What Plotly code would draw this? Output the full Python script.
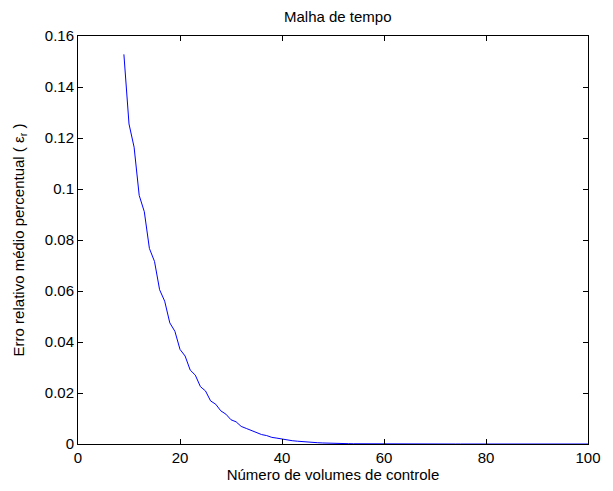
import plotly.graph_objects as go

# Número de volumes de controle (malha) e erro relativo médio percentual
n_volumes = list(range(9, 101))
erro_relativo = [
    0.1528, 0.1255, 0.1164, 0.0975, 0.0911, 0.0767, 0.0716, 0.0605, 0.0560, 0.0475,  # 9-18
    0.0442, 0.0371, 0.0345, 0.0290, 0.0270, 0.0225, 0.0208, 0.0169, 0.0156, 0.0130,  # 19-28
    0.0117, 0.0095, 0.0087, 0.0069, 0.0061, 0.0052, 0.0046, 0.0037, 0.0033, 0.0026,  # 29-38
    0.0023, 0.0019, 0.0016, 0.0013, 0.0011, 0.0009, 0.0007, 0.0006, 0.0005, 0.0004,  # 39-48
    0.0003, 0.00025, 0.0002, 0.00016, 0.00013, 0.0001, 0.00008, 0.00006, 0.00005, 0.00004,  # 49-58
    0.00003, 0.00002, 0.000016, 0.000012, 0.00001, 0.000008, 0.000006, 0.000005, 0.000004, 0.000003,  # 59-68
    0.0000025, 0.000002, 0.0000016, 0.0000012, 0.000001, 0.0000008, 0.0000006, 0.0000005, 0.0000004, 0.0000003,  # 69-78
    0.00000025, 0.0000002, 0.00000016, 0.00000012, 0.0000001, 0.00000008, 0.00000006, 0.00000005, 0.00000004, 0.00000003,  # 79-88
    0.000000025, 0.00000002, 0.000000016, 0.000000012, 0.00000001, 0.000000008, 0.000000006, 0.000000005, 0.000000004, 0.000000003,  # 89-98
    0.0000000025, 0.000000002,  # 99-100
]

x_ticks = [0, 20, 40, 60, 80, 100]
y_ticks = [0, 0.02, 0.04, 0.06, 0.08, 0.1, 0.12, 0.14, 0.16]
y_tick_labels = ["0", "0.02", "0.04", "0.06", "0.08", "0.1", "0.12", "0.14", "0.16"]

FONT = "Liberation Sans, Arial, Helvetica, sans-serif"
FS = 15

fig = go.Figure()
fig.add_trace(go.Scatter(
    x=n_volumes, y=erro_relativo, mode="lines",
    line=dict(color="#0000ff", width=1),
    showlegend=False,
))

axis_common = dict(
    showline=True, linecolor="black", linewidth=1, mirror="ticks",
    ticks="inside", ticklen=5, tickcolor="black", tickwidth=1,
    showgrid=False, zeroline=False,
    tickfont=dict(family=FONT, size=FS, color="black"),
)

fig.update_layout(
    width=613, height=491,
    margin=dict(l=78, r=15, t=36, b=44),
    paper_bgcolor="white", plot_bgcolor="white",
    font=dict(family=FONT, size=FS, color="black"),
    title=dict(text="Malha de tempo", x=0.551, xanchor="center",
               y=1 - 17 / 491, yanchor="middle",
               font=dict(family=FONT, size=FS, color="black")),
    xaxis=dict(range=[0, 100], tickvals=x_ticks,
               title=dict(text="Número de volumes de controle", standoff=2,
                          font=dict(family=FONT, size=FS)),
               **axis_common),
    yaxis=dict(range=[0, 0.16], tickvals=y_ticks, ticktext=y_tick_labels,
               title=dict(text="Erro relativo médio percentual ( ε<sub>r</sub> )",
                          standoff=16, font=dict(family=FONT, size=FS)),
               **axis_common),
)

fig.write_html("out.html")
